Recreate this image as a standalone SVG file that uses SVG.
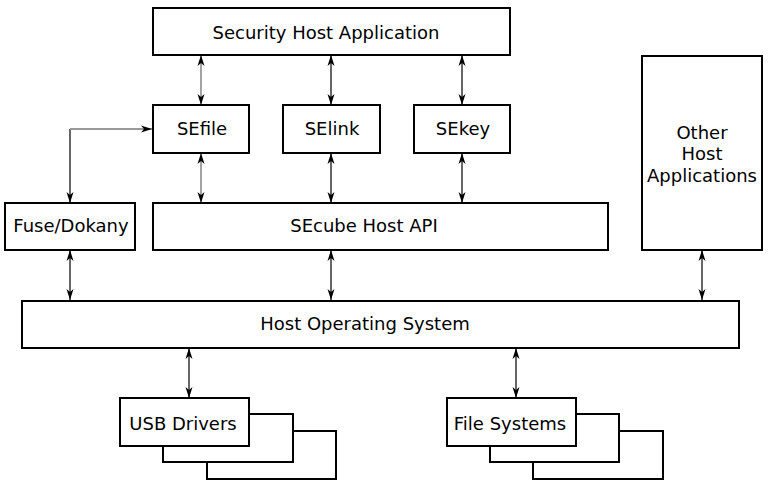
<svg xmlns="http://www.w3.org/2000/svg" width="770" height="488" viewBox="0 0 770 488">
<style>
.box{fill:#fff;stroke:#000;stroke-width:2}
.t{font-family:"DejaVu Sans",Verdana,sans-serif;font-size:18px;fill:#000;text-anchor:middle}
.c{fill:none;stroke:#000;stroke-width:1.2}
.g{fill:none;stroke:#999;stroke-width:1.8}
.c,.g{marker-start:url(#ah);marker-end:url(#ah)}
</style>
<defs>
<marker id="ah" viewBox="0 -4 11 8" refX="11" refY="0" markerWidth="11" markerHeight="8" markerUnits="userSpaceOnUse" orient="auto-start-reverse">
<path d="M0,-3.5 L11,0 L0,3.5 L3,0 z" fill="#000"/>
</marker>
</defs>
<rect width="770" height="488" fill="#fff"/>
<g id="connectors">
<line class="g" x1="201" y1="55" x2="201" y2="105"/>
<line class="c" x1="331" y1="55" x2="331" y2="105"/>
<line class="c" x1="462" y1="55" x2="462" y2="105"/>
<line class="g" x1="201" y1="153" x2="201" y2="203"/>
<line class="c" x1="331" y1="153" x2="331" y2="203"/>
<line class="c" x1="462" y1="153" x2="462" y2="203"/>
<path class="c" d="M70,203 V129" style="marker-end:none"/>
<path class="g" d="M70,129 H152" style="marker-start:none"/>
<line class="c" x1="70" y1="250" x2="70" y2="300"/>
<line class="c" x1="331" y1="250" x2="331" y2="300"/>
<line class="c" x1="702" y1="250" x2="702" y2="300"/>
<line class="c" x1="189" y1="348" x2="189" y2="398"/>
<line class="c" x1="516" y1="348" x2="516" y2="398"/>
</g>
<g id="security-host-application">
<rect class="box" x="153" y="8" width="357" height="47"/>
<text class="t" x="326" y="39">Security Host Application</text>
</g>
<g id="sefile">
<rect class="box" x="153" y="105" width="96" height="48"/>
<text class="t" x="202" y="135">SEfile</text>
</g>
<g id="selink">
<rect class="box" x="283" y="105" width="97" height="48"/>
<text class="t" x="332" y="135">SElink</text>
</g>
<g id="sekey">
<rect class="box" x="414" y="105" width="96" height="48"/>
<text class="t" x="463" y="135">SEkey</text>
</g>
<g id="fuse-dokany">
<rect class="box" x="5" y="203" width="130" height="47"/>
<text class="t" x="71" y="232">Fuse/Dokany</text>
</g>
<g id="secube-host-api">
<rect class="box" x="153" y="203" width="455" height="47"/>
<text class="t" x="364" y="232">SEcube Host API</text>
</g>
<g id="other-host-applications">
<rect class="box" x="642" y="56" width="120" height="194"/>
<text class="t" x="702" y="139">Other</text>
<text class="t" x="702" y="160">Host</text>
<text class="t" x="702" y="182">Applications</text>
</g>
<g id="host-operating-system">
<rect class="box" x="22" y="301" width="717" height="47"/>
<text class="t" x="365" y="330">Host Operating System</text>
</g>
<g id="usb-drivers">
<rect class="box" x="207" y="431" width="129" height="48"/>
<rect class="box" x="163" y="414" width="130" height="48"/>
<rect class="box" x="120" y="398" width="129" height="48"/>
<text class="t" x="183" y="430">USB Drivers</text>
</g>
<g id="file-systems">
<rect class="box" x="533" y="431" width="130" height="48"/>
<rect class="box" x="490" y="414" width="129" height="48"/>
<rect class="box" x="447" y="398" width="129" height="48"/>
<text class="t" x="510" y="430">File Systems</text>
</g>
</svg>
